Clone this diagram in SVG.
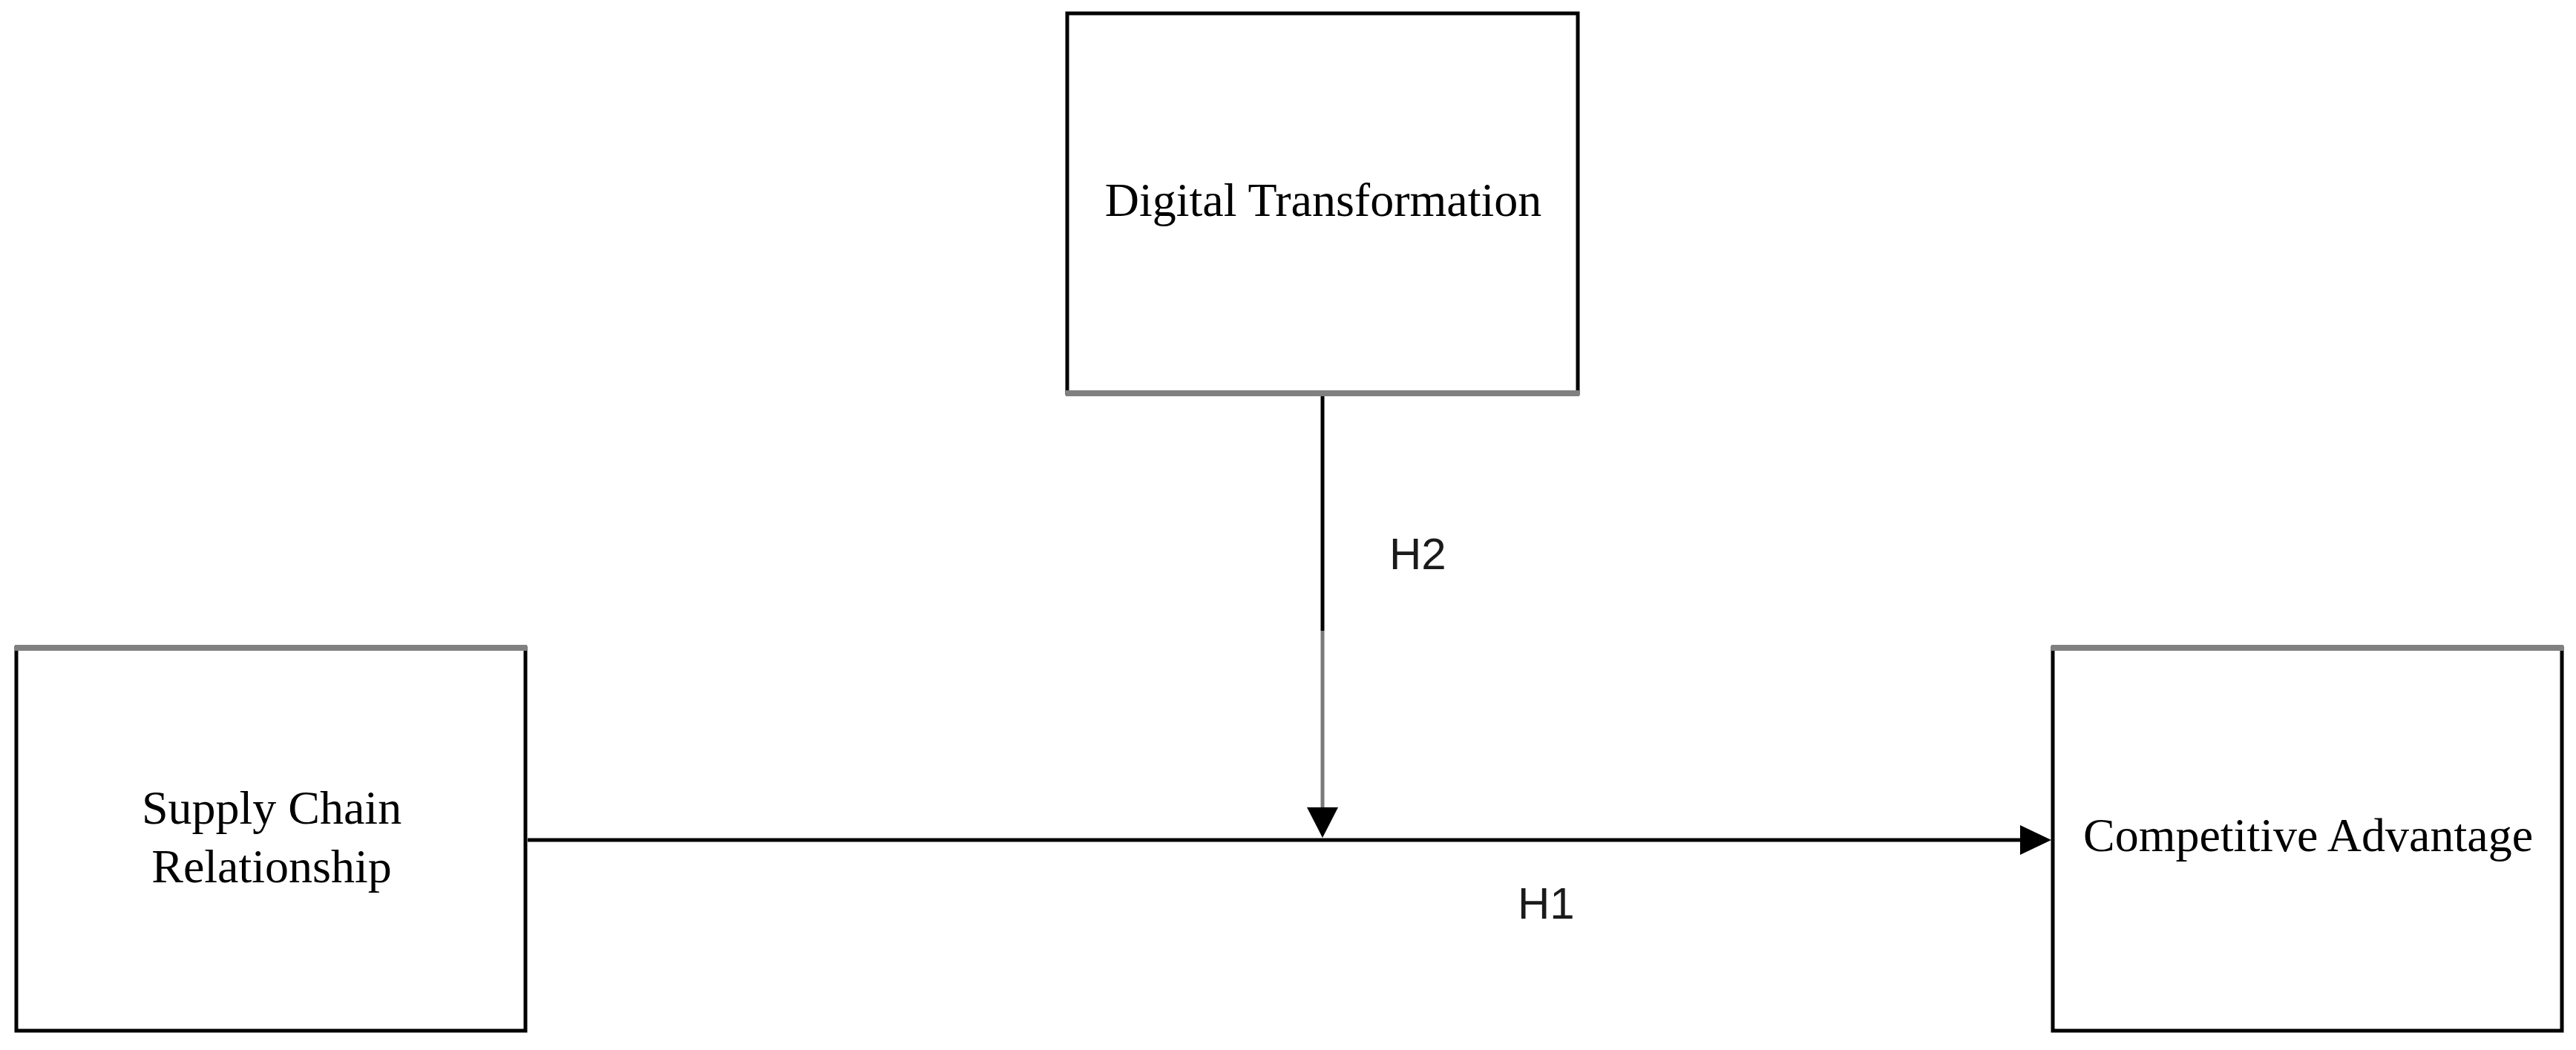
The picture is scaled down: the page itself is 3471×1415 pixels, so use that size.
<svg xmlns="http://www.w3.org/2000/svg" width="3471" height="1415" viewBox="0 0 3471 1415">
<defs>
<style>
.box{fill:#ffffff;stroke:#000000;stroke-width:5}
.shade{stroke:#808080;stroke-width:8;fill:none}
.lbl{font-family:"Liberation Serif","Times New Roman",serif;font-size:64px;fill:#000000;text-anchor:middle}
.hyp{font-family:"Liberation Sans",Arial,sans-serif;font-size:60px;fill:#1a1a1a}
.edge{stroke:#000000;stroke-width:5;fill:none}
</style>
</defs>
<rect x="0" y="0" width="3471" height="1415" fill="#ffffff"/>
<g id="node-digital-transformation">
<rect class="box" x="1438" y="18" width="688" height="512"/>
<line class="shade" x1="1436" y1="530" x2="2128" y2="530"/>
<text class="lbl" x="1783" y="291">Digital Transformation</text>
</g>
<g id="node-supply-chain-relationship">
<rect class="box" x="22" y="873" width="686" height="516"/>
<line class="shade" x1="20" y1="873" x2="710" y2="873"/>
<text class="lbl" x="366" y="1110">Supply Chain</text>
<text class="lbl" x="366" y="1189">Relationship</text>
</g>
<g id="node-competitive-advantage">
<rect class="box" x="2766" y="873" width="686" height="516"/>
<line class="shade" x1="2764" y1="873" x2="3454" y2="873"/>
<text class="lbl" x="3110" y="1147">Competitive Advantage</text>
</g>
<g id="connectors">
<line class="edge" x1="711" y1="1132" x2="2726" y2="1132"/>
<polygon points="2722,1112 2764,1132 2722,1152" fill="#000000"/>
<line class="edge" x1="1782" y1="534" x2="1782" y2="850"/>
<line x1="1782" y1="850" x2="1782" y2="1090" stroke="#7a7a7a" stroke-width="5"/>
<polygon points="1761,1088 1803,1088 1782,1129" fill="#000000"/>
<text class="hyp" x="1872" y="767">H2</text>
<text class="hyp" x="2045" y="1238">H1</text>
</g>
</svg>
